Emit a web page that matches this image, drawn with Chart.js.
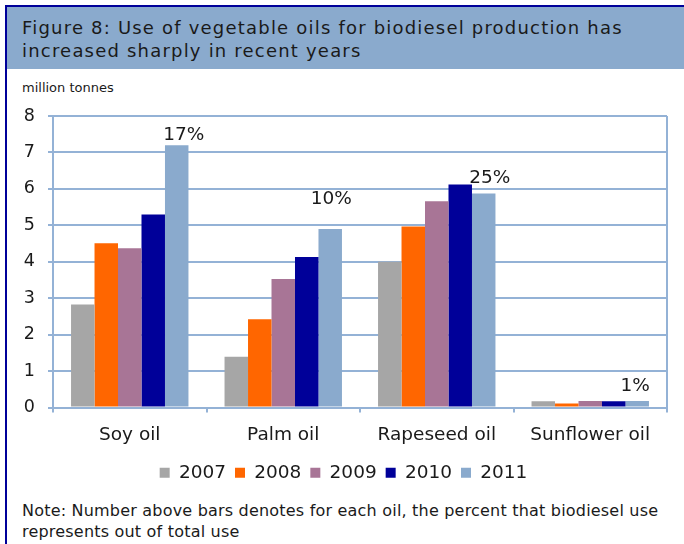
<!DOCTYPE html>
<html>
<head>
<meta charset="utf-8">
<script src="https://cdn.jsdelivr.net/npm/chart.js@4"></script>
<style>
  html, body { margin: 0; padding: 0; background: #fff; }
  #wrap { position: relative; width: 684px; height: 544px; overflow: hidden; }
  #frame { position: absolute; left: 5px; top: 5px; right: -2px; bottom: -2px;
           border-left: 2px solid #000099; border-top: 2px solid #000099; }
  #head { position: absolute; left: 7px; top: 7px; width: 677px; height: 62px; background: #8aaacd; }
  .txt { position: absolute; left: 22px; font-family: "DejaVu Sans", sans-serif; color: #1a1a1a; white-space: nowrap; }
  #title { top: 16px; font-size: 18px; line-height: 23px; letter-spacing: 1.2px; }
  #unit { top: 79px; font-size: 13px; line-height: 18px; }
  #note { top: 500px; font-size: 16px; line-height: 21px; letter-spacing: 0.2px; }
  canvas { position: absolute; left: 0; top: 0; }
</style>
</head>
<body>
<div id="wrap">
  <div id="frame"></div>
  <div id="head"></div>
  <div class="txt" id="title">Figure 8: Use of vegetable oils for biodiesel production has<br>increased sharply in recent years</div>
  <div class="txt" id="unit">million tonnes</div>
  <div class="txt" id="note">Note: Number above bars denotes for each oil, the percent that biodiesel use<br>represents out of total use</div>
  <canvas id="chart" width="684" height="544"></canvas>
</div>
<script>
// data (million tonnes)
const oils = ['Soy oil', 'Palm oil', 'Rapeseed oil', 'Sunflower oil'];
const years = ['2007', '2008', '2009', '2010', '2011'];
const use2007 = [2.83, 1.39, 4.00, 0.17];
const use2008 = [4.51, 2.42, 4.97, 0.11];
const use2009 = [4.37, 3.53, 5.66, 0.18];
const use2010 = [5.30, 4.13, 6.12, 0.17];
const use2011 = [7.20, 4.90, 5.87, 0.18];
const shareLabels = ['17%', '10%', '25%', '1%'];
const yTicks = [0, 1, 2, 3, 4, 5, 6, 7, 8];

const colours = ['#a6a6a6', '#ff6600', '#a87596', '#000099', '#8aaacd'];
const gridBlue = '#94b2d6';
const axisFont = { family: 'DejaVu Sans', size: 18.5 };

// percent labels above the 2011 bar of each oil (pixel nudges copied from the figure)
const shareLabelPlugin = {
  id: 'shareLabels',
  afterDatasetsDraw(chart, args, opts) {
    const meta = chart.getDatasetMeta(4);
    const ctx = chart.ctx;
    ctx.save();
    ctx.font = '18.5px "DejaVu Sans"';
    ctx.fillStyle = '#1a1a1a';
    ctx.textAlign = 'center';
    ctx.textBaseline = 'middle';
    shareLabels.forEach((txt, i) => {
      const bar = meta.data[i];
      ctx.fillText(txt, bar.x + opts.dx[i], bar.y + opts.dy[i]);
    });
    ctx.restore();
  }
};

const series = [use2007, use2008, use2009, use2010, use2011];

new Chart(document.getElementById('chart'), {
  type: 'bar',
  data: {
    labels: oils,
    datasets: years.map((y, i) => ({
      label: y,
      data: series[i],
      backgroundColor: colours[i],
      borderWidth: 0,
      categoryPercentage: 0.765,
      barPercentage: 1.0
    }))
  },
  options: {
    responsive: false,
    animation: false,
    layout: { padding: { left: 20, right: 17, top: 116, bottom: 52 } },
    plugins: {
      legend: {
        position: 'bottom',
        labels: { boxWidth: 10, boxHeight: 10, padding: 9, color: '#1a1a1a', font: axisFont }
      },
      tooltip: { enabled: false },
      shareLabels: { dx: [7, 1, 6, -2], dy: [-10, -30, -15, -15] }
    },
    scales: {
      x: {
        afterFit: s => { s.height = 47; },
        grid: {
          offset: true,
          color: c => c.tick ? 'rgba(0,0,0,0)' : gridBlue,
          tickColor: gridBlue,
          tickLength: 5,
          lineWidth: 2
        },
        border: { color: gridBlue, width: 2 },
        ticks: { color: '#1a1a1a', font: axisFont, padding: 12 }
      },
      y: {
        min: 0,
        max: 8,
        afterFit: s => { s.width = 33; },
        afterBuildTicks: s => { s.ticks = yTicks.map(v => ({ value: v })); },
        grid: { color: gridBlue, tickColor: gridBlue, tickLength: 5, lineWidth: 2 },
        border: { color: gridBlue, width: 2 },
        ticks: { color: '#1a1a1a', font: { family: 'DejaVu Sans', size: 17.5 }, padding: 13 }
      }
    }
  },
  plugins: [shareLabelPlugin]
});
</script>
</body>
</html>
